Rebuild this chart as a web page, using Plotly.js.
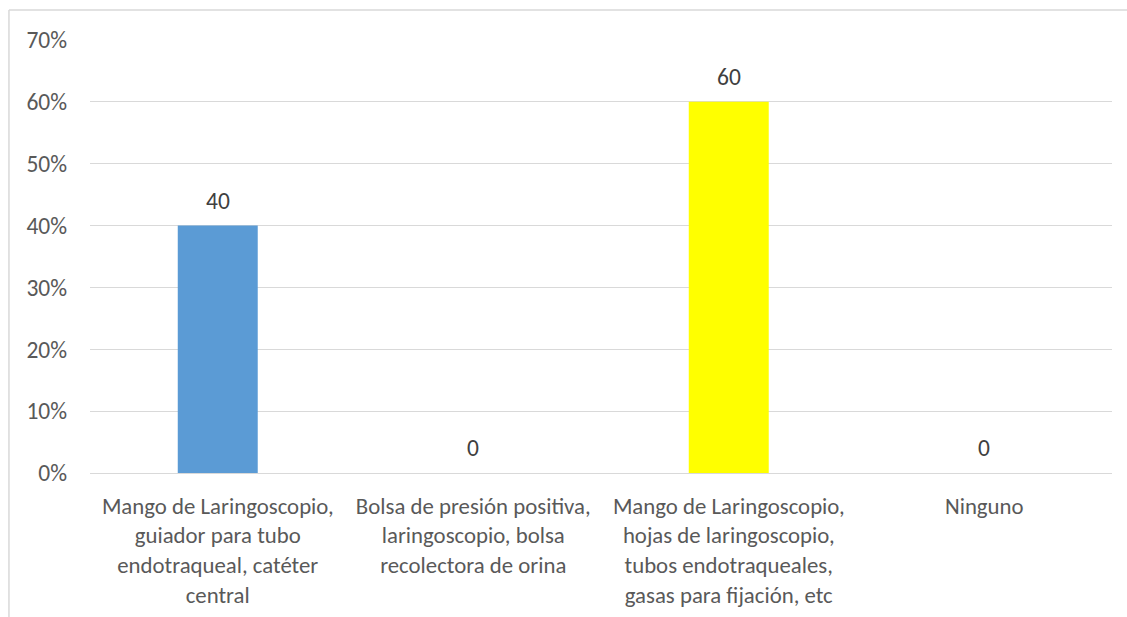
<!DOCTYPE html>
<html>
<head>
<meta charset="utf-8">
<script src="https://cdn.plot.ly/plotly-3.0.1.min.js"></script>
<style>html,body{margin:0;padding:0;background:#fff;}#chart{width:1127px;height:617px;}</style>
</head>
<body>
<div id="chart"></div>
<script>
const categories = [
  "Mango de Laringoscopio,<br>guiador para tubo<br>endotraqueal, catéter<br>central",
  "Bolsa de presión positiva,<br>laringoscopio, bolsa<br>recolectora de orina",
  "Mango de Laringoscopio,<br>hojas de laringoscopio,<br>tubos endotraqueales,<br>gasas para fijación, etc",
  "Ninguno"
];
const values = [40, 0, 60, 0];
const barColors = ["#5B9BD5", "#5B9BD5", "#FFFF00", "#5B9BD5"];
const yTickVals = [0, 10, 20, 30, 40, 50, 60, 70];
const yTickText = ["0%", "10%", "20%", "30%", "40%", "50%", "60%", "70%"];

const FONT = "Carlito, Calibri, 'Open Sans', sans-serif";
const TXT = "#595959";

const trace = {
  type: "bar",
  x: categories,
  y: values,
  marker: {color: barColors},
  width: 0.313,
  hoverinfo: "none"
};

const annotations = values.map((v, i) => ({
  x: categories[i], y: v, xref: "x", yref: "y",
  text: String(v), showarrow: false, yanchor: "bottom", yshift: 9,
  font: {family: FONT, size: 23.5, color: "#404040"}
}));

const layout = {
  width: 1127, height: 617,
  margin: {l: 90, r: 15, t: 40, b: 144},
  paper_bgcolor: "#fff", plot_bgcolor: "#fff",
  showlegend: false,
  bargap: 0.687,
  font: {family: FONT, color: TXT, size: 23.5},
  xaxis: {
    type: "category", showgrid: false, showline: false, ticks: "",
    ticklabelstandoff: 17, zeroline: false,
    tickfont: {family: FONT, size: 22.8, color: TXT}
  },
  yaxis: {
    range: [0, 70], tickvals: yTickVals, ticktext: yTickText,
    showgrid: true, gridcolor: "#d9d9d9", gridwidth: 1,
    zeroline: true, zerolinecolor: "#d9d9d9", zerolinewidth: 1,
    showline: false, ticks: "", ticklabelstandoff: 22,
    tickfont: {family: FONT, size: 23.5, color: TXT}
  },
  annotations: annotations,
  shapes: [
    {type: "line", xref: "paper", yref: "paper", x0: -0.0793, x1: 1.2, y0: 1.069, y1: 1.069, line: {color: "#d9d9d9", width: 1.5}},
    {type: "line", xref: "paper", yref: "paper", x0: -0.0793, x1: -0.0793, y0: 1.069, y1: -0.5, line: {color: "#d9d9d9", width: 1.5}}
  ]
};

Plotly.newPlot("chart", [trace], layout, {displayModeBar: false, staticPlot: true});
</script>
</body>
</html>
